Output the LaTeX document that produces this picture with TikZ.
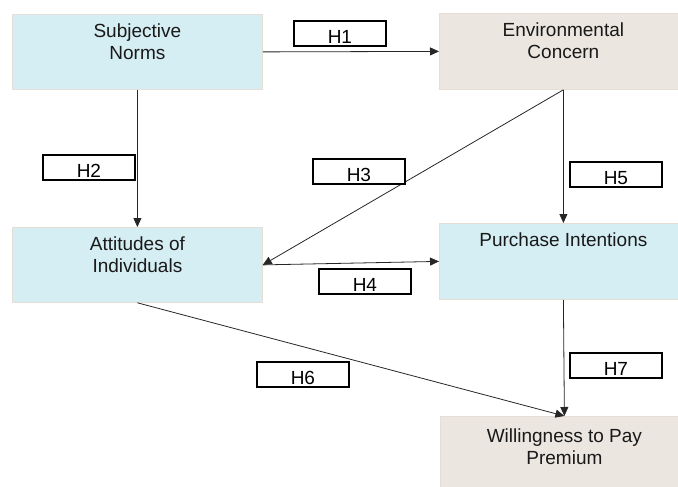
\documentclass[tikz,border=0pt]{standalone}
\usepackage{fontspec}
\setmainfont{Liberation Sans}
\usetikzlibrary{arrows.meta}
\definecolor{boxblue}{HTML}{D5EEF3}
\definecolor{boxbeige}{HTML}{EBE6E0}
\definecolor{boxedge}{HTML}{E6DED6}
\begin{document}
\begin{tikzpicture}[x=1pt,y=-1pt,
  factor/.style={draw=boxedge, line width=0.8pt, minimum width=250pt, minimum height=75pt, inner sep=0pt, anchor=north west},
  ftext/.style={font=\fontsize{19}{22}\selectfont, align=center, inner sep=0pt, anchor=north, text=black!90},
  hbox/.style={draw=black, line width=1.8pt, fill=white, minimum width=92pt, inner sep=0pt, text height=23pt, text depth=2pt, anchor=north west, font=\fontsize{19}{22}\selectfont},
  conn/.style={draw=black!85, line width=0.8pt, -{Triangle[length=9pt,width=8pt]}}]
\useasboundingbox (0,0) rectangle (678,487);
\clip (0,0) rectangle (678,487);
% factor boxes
\node[factor, fill=boxblue] (sn) at (12,14) {};
\node[factor, fill=boxbeige, minimum width=248pt, minimum height=76pt] (ec) at (439,13) {};
\node[factor, fill=boxblue] (ai) at (12,227) {};
\node[factor, fill=boxblue, minimum width=248pt, minimum height=76pt] (pi) at (439,223) {};
\node[factor, fill=boxbeige, minimum width=248pt, minimum height=76pt] (wp) at (440,416) {};
% texts
\node[ftext] (snt) at ([yshift=-10pt]sn.north) {Subjective\\Norms};
\node[ftext] (ect) at ([yshift=-10pt]ec.north) {Environmental\\Concern};
\node[ftext] (ait) at ([yshift=-10pt]ai.north) {Attitudes of\\Individuals};
\node[ftext] (pit) at ([yshift=-10pt]pi.north) {Purchase Intentions};
\node[ftext] (wpt) at ([yshift=-13pt]wp.north) {Willingness to Pay\\Premium};
% connectors
\draw[conn] (sn.east) -- (ec.west);
\draw[conn] (sn.south) -- (ai.north);
\draw[conn] (ec.south) -- (ai.east);
\draw[conn] (ai.east) -- (pi.west);
\draw[conn] (ec.south) -- (pi.north);
\draw[conn] (ai.south) -- (wp.north);
\draw[conn] (pi.south) -- (wp.north);
% hypothesis labels
\node[hbox] (h1) at (293,20) {H1};
\node[hbox] (h2) at (42,154) {H2};
\node[hbox] (h3) at (312,158) {H3};
\node[hbox] (h4) at (318,268) {H4};
\node[hbox] (h5) at (569,161) {H5};
\node[hbox] (h6) at (256,361) {H6};
\node[hbox] (h7) at (569,352) {H7};
\end{tikzpicture}
\end{document}
